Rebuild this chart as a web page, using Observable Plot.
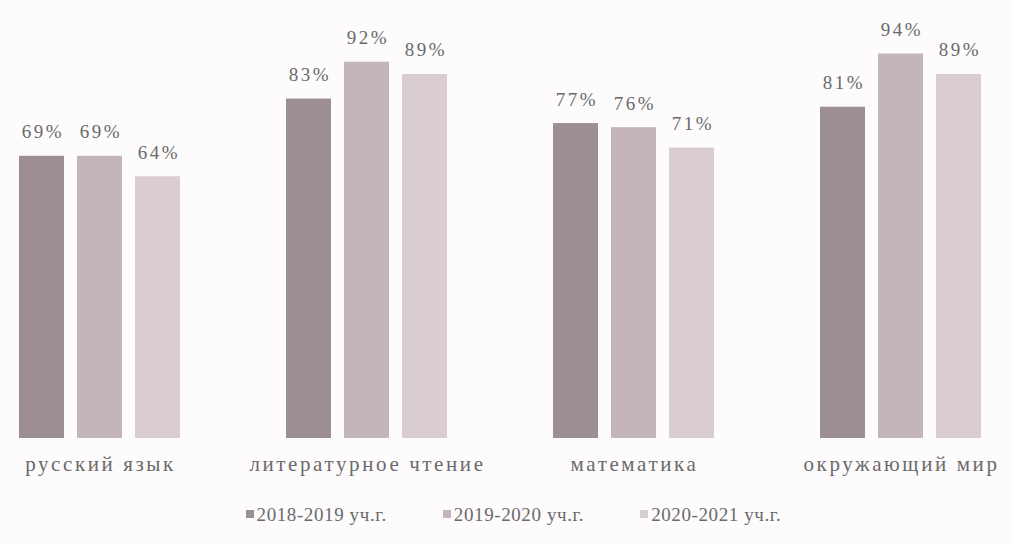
<!DOCTYPE html>
<html>
<head>
<meta charset="utf-8">
<script src="https://cdn.jsdelivr.net/npm/d3@7"></script>
<script src="https://cdn.jsdelivr.net/npm/@observablehq/plot@0.6"></script>
<style>
  body { margin: 0; background: #fdfbfc; font-family: "Liberation Serif", "DejaVu Serif", serif; }
  #chart { width: 1013px; }
  #chart svg g[aria-label="fx-axis tick label"] text { letter-spacing: 2.6px; }
  #chart svg g[aria-label="text"] text { letter-spacing: 2.5px; }
  .legend { display: flex; justify-content: center; gap: 56px; font-size: 19px; color: #6a6a6a; margin-top: 14px; padding-left: 14px; letter-spacing: 0.6px; }
  .legend span.sw { display: inline-block; width: 8px; height: 8px; margin-right: 3px; vertical-align: 3px; }
</style>
</head>
<body>
<div id="chart"></div>
<script>
const subjects = ["русский язык", "литературное чтение", "математика", "окружающий мир"];
const years = ["2018-2019 уч.г.", "2019-2020 уч.г.", "2020-2021 уч.г."];
const v2018 = [69, 83, 77, 81];
const v2019 = [69, 92, 76, 94];
const v2020 = [64, 89, 71, 89];
const colors = ["#9d8e95", "#c3b5bb", "#d9ccd2"];

const series = [v2018, v2019, v2020];
const data = [];
subjects.forEach((s, i) => years.forEach((y, j) => data.push({subject: s, year: y, value: series[j][i]})));

const plot = Plot.plot({
  width: 1013,
  height: 490,
  marginLeft: 4,
  marginRight: 16,
  marginTop: 29,
  marginBottom: 52,
  style: {background: "transparent", fontFamily: "Liberation Serif, serif"},
  fx: {domain: subjects, paddingInner: 0.386, paddingOuter: 0.05, label: null},
  x: {domain: years, paddingInner: 0.22, paddingOuter: 0, axis: null},
  y: {domain: [0, 100], axis: null},
  color: {domain: years, range: colors},
  marks: [
    Plot.barY(data, {fx: "subject", x: "year", y: "value", fill: "year"}),
    Plot.text(data, {fx: "subject", x: "year", y: "value", text: d => d.value + "%", lineAnchor: "bottom", dy: -18, dx: 1, fontSize: 19, fill: "#6a6a6a"}),
    Plot.axisFx({anchor: "bottom", tickSize: 0, tickPadding: 18, fontSize: 21, fill: "#6a6a6a", label: null})
  ]
});
document.getElementById("chart").appendChild(plot);

const legend = document.createElement("div");
legend.className = "legend";
years.forEach((y, j) => {
  const item = document.createElement("div");
  const sw = document.createElement("span");
  sw.className = "sw";
  sw.style.background = colors[j];
  item.appendChild(sw);
  item.appendChild(document.createTextNode(y));
  legend.appendChild(item);
});
document.getElementById("chart").appendChild(legend);
</script>
</body>
</html>
